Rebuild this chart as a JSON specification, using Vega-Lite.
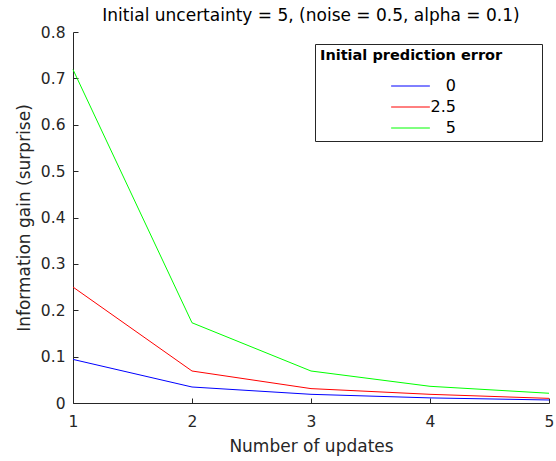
{
  "$schema": "https://vega.github.io/schema/vega-lite/v6.json",
  "autosize": "none",
  "width": 476,
  "height": 371,
  "padding": {"left": 73, "top": 32, "right": 7, "bottom": 58},
  "background": "white",
  "title": {
    "text": "Initial uncertainty = 5, (noise = 0.5, alpha = 0.1)",
    "anchor": "middle",
    "font": "DejaVu Sans",
    "fontSize": 17,
    "fontWeight": "normal",
    "color": "#000000",
    "offset": 0
  },
  "config": {
    "view": {"stroke": null},
    "font": "DejaVu Sans",
    "axis": {
      "grid": false,
      "domainColor": "#262626",
      "tickColor": "#262626",
      "labelColor": "#262626",
      "titleColor": "#262626",
      "labelFont": "DejaVu Sans",
      "titleFont": "DejaVu Sans",
      "labelFontSize": 15.5,
      "titleFontSize": 17,
      "titleFontWeight": "normal",
      "tickSize": -5
    }
  },
  "data": {
    "values": [
      {"updates": 1, "err": "0", "gain": 0.094},
      {"updates": 2, "err": "0", "gain": 0.0345},
      {"updates": 3, "err": "0", "gain": 0.0187},
      {"updates": 4, "err": "0", "gain": 0.011},
      {"updates": 5, "err": "0", "gain": 0.0065},
      {"updates": 1, "err": "2.5", "gain": 0.25},
      {"updates": 2, "err": "2.5", "gain": 0.069},
      {"updates": 3, "err": "2.5", "gain": 0.031},
      {"updates": 4, "err": "2.5", "gain": 0.0187},
      {"updates": 5, "err": "2.5", "gain": 0.010},
      {"updates": 1, "err": "5", "gain": 0.719},
      {"updates": 2, "err": "5", "gain": 0.173},
      {"updates": 3, "err": "5", "gain": 0.069},
      {"updates": 4, "err": "5", "gain": 0.036},
      {"updates": 5, "err": "5", "gain": 0.021}
    ]
  },
  "mark": {"type": "line", "strokeWidth": 1},
  "encoding": {
    "x": {
      "field": "updates",
      "type": "quantitative",
      "scale": {"domain": [1, 5], "nice": false, "zero": false},
      "axis": {
        "title": "Number of updates",
        "values": [1, 2, 3, 4, 5],
        "format": "d",
        "labelPadding": 16,
        "titlePadding": 9,
        "labelFlush": false
      }
    },
    "y": {
      "field": "gain",
      "type": "quantitative",
      "scale": {"domain": [0, 0.8], "nice": false},
      "axis": {
        "title": "Information gain (surprise)",
        "values": [0, 0.1, 0.2, 0.3, 0.4, 0.5, 0.6, 0.7, 0.8],
        "labelExpr": "datum.value == 0 ? '0' : format(datum.value, '.1f')",
        "labelPadding": 13,
        "titlePadding": 7,
        "labelFlush": false
      }
    },
    "color": {
      "field": "err",
      "type": "nominal",
      "scale": {"domain": ["0", "2.5", "5"], "range": ["#0000ff", "#ff0000", "#00ff00"]},
      "legend": {
        "title": "Initial prediction error\u2800\u2800\u2800",
        "titleLimit": 400,
        "orient": "none",
        "legendX": 242,
        "legendY": 12,
        "strokeColor": "#262626",
        "fillColor": "white",
        "padding": 5,
        "titleFont": "DejaVu Sans",
        "titleFontSize": 14.5,
        "titleFontWeight": "bold",
        "titleColor": "#000000",
        "titlePadding": 12,
        "labelFont": "DejaVu Sans",
        "labelFontSize": 16,
        "labelColor": "#000000",
        "labelAlign": "right",
        "labelOffset": 35,
        "symbolType": "M-2,0H2",
        "symbolSize": 375,
        "symbolStrokeWidth": 1,
        "symbolOffset": 80,
        "rowPadding": 2
      }
    }
  }
}
